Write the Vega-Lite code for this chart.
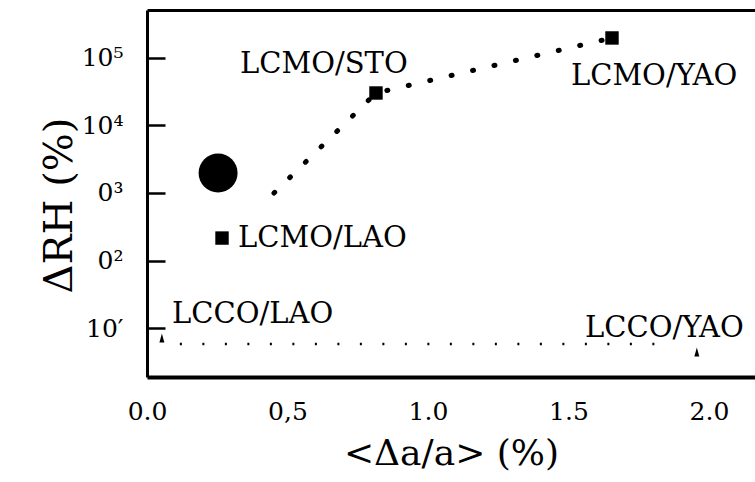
{
  "$schema": "https://vega.github.io/schema/vega-lite/v6.json",
  "width": 608,
  "height": 367,
  "autosize": {"type": "none"},
  "padding": {"left": 147, "top": 10, "right": 0, "bottom": 105},
  "background": "white",
  "config": {
    "view": {"stroke": null},
    "font": "DejaVu Serif",
    "axis": {"labelFont": "DejaVu Serif", "titleFont": "DejaVu Serif", "labelColor": "black", "titleColor": "black", "domainColor": "black", "tickColor": "black", "grid": false, "titleFontWeight": "normal"}
  },
  "datasets": {
    "points": [
      {"sample": "LCMO bulk", "kind": "bulk", "x": 0.253, "y": 1980},
      {"sample": "LCMO/LAO", "kind": "LCMO film", "x": 0.267, "y": 215},
      {"sample": "LCMO/STO", "kind": "LCMO film", "x": 0.815, "y": 30300},
      {"sample": "LCMO/YAO", "kind": "LCMO film", "x": 1.655, "y": 198000},
      {"sample": "LCCO/LAO", "kind": "LCCO film", "x": 0.053, "y": 7.1},
      {"sample": "LCCO/YAO", "kind": "LCCO film", "x": 1.957, "y": 4.4}
    ],
    "trend": [
      {"series": "LCMO", "x": 0.452, "y": 1000},
      {"series": "LCMO", "x": 0.815, "y": 30300},
      {"series": "LCMO", "x": 1.655, "y": 198000},
      {"series": "LCCO", "x": 0.117, "y": 5.8},
      {"series": "LCCO", "x": 1.81, "y": 5.8}
    ],
    "labels": [
      {"text": "LCMO/STO", "x": 0.331, "y": 60000},
      {"text": "LCMO/LAO", "x": 0.324, "y": 158},
      {"text": "LCCO/LAO", "x": 0.089, "y": 11.9},
      {"text": "LCCO/YAO", "x": 1.559, "y": 7.36},
      {"text": "LCMO/YAO", "x": 1.509, "y": 39800}
    ]
  },
  "resolve": {"axis": {"x": "independent", "y": "independent"}},
  "layer": [
    {
      "data": {"name": "trend"},
      "transform": [{"filter": "datum.series === 'LCCO'"}],
      "mark": {"type": "line", "color": "black", "strokeWidth": 2.5, "strokeDash": [2, 20.5]},
      "encoding": {
        "x": {"field": "x", "type": "quantitative", "scale": {"domain": [0, 2.164], "nice": false, "zero": false},
          "axis": {"orient": "bottom", "title": "<Δa/a>  (%)", "titleFontSize": 36, "titlePadding": 12,
            "values": [0, 0.5, 1, 1.5, 2], "labelExpr": "datum.value === 0 ? '0.0' : datum.value === 0.5 ? '0,5' : datum.value === 1 ? '1.0' : datum.value === 1.5 ? '1.5' : '2.0'",
            "labelFontSize": 25, "labelPadding": 22, "ticks": false, "domainWidth": 4, "labelFlush": false}},
        "y": {"field": "y", "type": "quantitative", "scale": {"type": "log", "domain": [1.88, 514000], "nice": false},
          "axis": {"orient": "left", "title": "ΔRH (%)", "titleFontSize": 40, "titleX": -68, "titleY": 195,
            "values": [10, 100, 1000, 10000, 100000],
            "labelExpr": "datum.value === 10 ? '10′' : datum.value === 100 ? '0²' : datum.value === 1000 ? '0³' : datum.value === 10000 ? '10⁴' : '10⁵'",
            "labelFontSize": 25, "labelPadding": 42, "tickSize": -18, "tickWidth": 2.5, "domainWidth": 3}}
      }
    },
    {
      "data": {"name": "trend"},
      "transform": [{"filter": "datum.series === 'LCMO'"}],
      "mark": {"type": "line", "color": "black", "strokeWidth": 5, "strokeCap": "round", "strokeDash": [1, 21]},
      "encoding": {
        "x": {"field": "x", "type": "quantitative", "axis": {"orient": "top", "labels": false, "ticks": false, "title": null, "domainWidth": 3}},
        "y": {"field": "y", "type": "quantitative", "axis": null}
      }
    },
    {
      "data": {"name": "points"},
      "transform": [{"filter": "datum.kind === 'bulk'"}],
      "mark": {"type": "point", "shape": "circle", "filled": true, "color": "black", "opacity": 1, "size": 1520},
      "encoding": {
        "x": {"field": "x", "type": "quantitative", "axis": null},
        "y": {"field": "y", "type": "quantitative", "axis": null}
      }
    },
    {
      "data": {"name": "points"},
      "transform": [{"filter": "datum.kind === 'LCMO film'"}],
      "mark": {"type": "point", "shape": "square", "filled": true, "color": "black", "opacity": 1, "size": 180},
      "encoding": {
        "x": {"field": "x", "type": "quantitative", "axis": null},
        "y": {"field": "y", "type": "quantitative", "axis": null}
      }
    },
    {
      "data": {"name": "points"},
      "transform": [{"filter": "datum.kind === 'LCCO film'"}],
      "mark": {"type": "point", "shape": "M0,-1L-0.55,1L0.55,1Z", "filled": true, "color": "black", "opacity": 1, "size": 81},
      "encoding": {
        "x": {"field": "x", "type": "quantitative", "axis": null},
        "y": {"field": "y", "type": "quantitative", "axis": null}
      }
    },
    {
      "data": {"name": "labels"},
      "mark": {"type": "text", "align": "left", "baseline": "alphabetic", "fontSize": 29, "color": "black"},
      "encoding": {
        "x": {"field": "x", "type": "quantitative", "axis": null},
        "y": {"field": "y", "type": "quantitative", "axis": null},
        "text": {"field": "text"}
      }
    }
  ]
}
